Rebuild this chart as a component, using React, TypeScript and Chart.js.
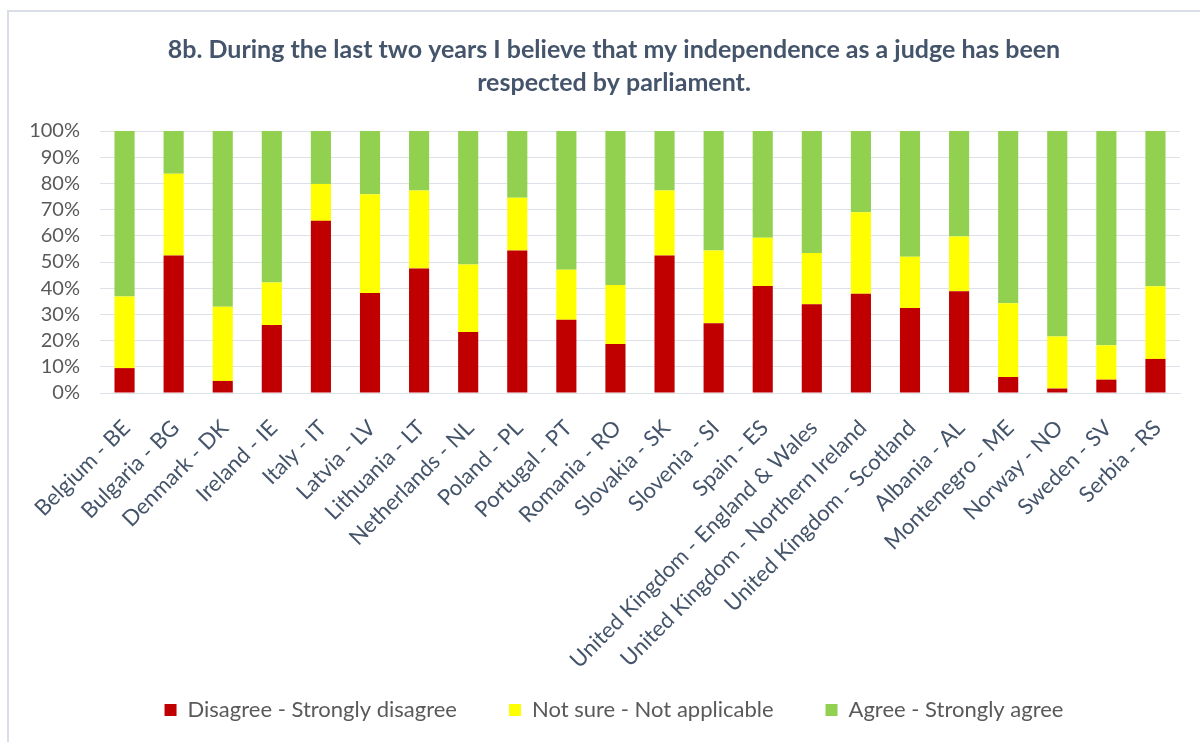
import React, { useEffect, useRef } from 'react';
import { Chart, registerables } from 'chart.js';

Chart.register(...registerables);

const titleLines = [
  '8b. During the last two years I believe that my independence as a judge has been',
  'respected by parliament.',
];

const categories = [
  'Belgium - BE',
  'Bulgaria - BG',
  'Denmark - DK',
  'Ireland - IE',
  'Italy - IT',
  'Latvia - LV',
  'Lithuania - LT',
  'Netherlands - NL',
  'Poland - PL',
  'Portugal - PT',
  'Romania - RO',
  'Slovakia - SK',
  'Slovenia - SI',
  'Spain - ES',
  'United Kingdom - England & Wales',
  'United Kingdom - Northern Ireland',
  'United Kingdom - Scotland',
  'Albania - AL',
  'Montenegro - ME',
  'Norway - NO',
  'Sweden - SV',
  'Serbia - RS',
];

const disagree = [9.5, 52.5, 4.6, 26.0, 65.7, 38.2, 47.5, 23.3, 54.4, 28.0, 18.7, 52.5, 26.6, 40.8, 33.9, 37.9, 32.4, 38.8, 6.1, 1.7, 5.1, 13.0];
const notSure = [27.3, 31.2, 28.3, 16.2, 14.1, 37.7, 29.8, 25.7, 20.1, 19.0, 22.5, 24.8, 27.8, 18.5, 19.5, 31.1, 19.6, 20.9, 28.2, 19.9, 13.1, 27.7];
const agree = [63.2, 16.3, 67.1, 57.8, 20.2, 24.1, 22.7, 51.0, 25.5, 53.0, 58.8, 22.7, 45.6, 40.7, 46.6, 31.0, 48.0, 40.3, 65.7, 78.4, 81.8, 59.3];

const seriesNames = ['Disagree - Strongly disagree', 'Not sure - Not applicable', 'Agree - Strongly agree'];

const FONT = 'Lato, "Open Sans", sans-serif';
const TEXT_GREY = '#595959';
const TEXT_SLATE = '#44546A';
const GRID = '#DDE1E8';

const LEGEND_PAD = 52;
const LEGEND_FONT = 22;
const LEGEND_ROW_Y = 710;

// shifts the title and legend boxes so they sit like the reference
const shiftBoxes = {
  id: 'shiftBoxes',
  afterLayout(chart: any) {
    const lg = chart.legend;
    const tb = chart.titleBlock;
    if (tb) {
      tb.left += 24;
      tb.right += 24;
    }
    if (lg) {
      lg.left += 24;
      lg.right += 24;
      lg.top = LEGEND_ROW_Y - LEGEND_PAD - LEGEND_FONT / 2;
      lg.bottom = chart.height;
    }
  },
};

export default function App() {
  const canvasRef = useRef<HTMLCanvasElement | null>(null);

  useEffect(() => {
    if (!canvasRef.current) return;
    const chart = new Chart(canvasRef.current, {
      type: 'bar',
      data: {
        labels: categories,
        datasets: [
          { label: seriesNames[0], data: disagree, backgroundColor: '#C00000', borderWidth: 0 },
          { label: seriesNames[1], data: notSure, backgroundColor: '#FFFF00', borderWidth: 0 },
          { label: seriesNames[2], data: agree, backgroundColor: '#92D050', borderWidth: 0 },
        ],
      },
      options: {
        animation: false,
        responsive: false,
        maintainAspectRatio: false,
        datasets: { bar: { barPercentage: 0.41, categoryPercentage: 1 } },
        layout: { padding: { left: 0, right: 20, top: 0, bottom: 0 } },
        plugins: {
          title: {
            display: true,
            text: titleLines,
            color: TEXT_SLATE,
            font: { family: FONT, size: 25, weight: 'bold', lineHeight: 1.32 },
            padding: { top: 33.5, bottom: 31.5 },
          },
          legend: {
            position: 'bottom',
            maxHeight: 40,
            labels: {
              color: TEXT_GREY,
              font: { family: FONT, size: LEGEND_FONT },
              boxWidth: 12,
              boxHeight: 12,
              padding: LEGEND_PAD,
            },
          },
          tooltip: { enabled: false },
        },
        scales: {
          x: {
            stacked: true,
            grid: { display: false, drawTicks: false },
            border: { display: true, color: GRID, width: 1 },
            ticks: {
              color: TEXT_SLATE,
              font: { family: FONT, size: 22 },
              maxRotation: 45,
              minRotation: 45,
              autoSkip: false,
              padding: 22,
              labelOffset: 2,
            },
            afterFit: (scale: any) => {
              scale.height = 309;
            },
          },
          y: {
            stacked: true,
            min: 0,
            max: 100,
            grid: { color: GRID, drawTicks: false, lineWidth: 1 },
            border: { display: false },
            ticks: {
              stepSize: 10,
              autoSkip: false,
              color: TEXT_GREY,
              font: { family: FONT, size: 20 },
              padding: 20,
              callback: (v: any) => v + '%',
            },
            afterFit: (scale: any) => {
              scale.width = 100;
            },
          },
        },
      },
      plugins: [shiftBoxes],
    });
    return () => chart.destroy();
  }, []);

  return (
    <div style={{ position: 'fixed', left: 0, top: 0, width: 1200, height: 742, background: '#fff', overflow: 'hidden' }}>
      <div
        style={{
          position: 'absolute',
          left: 7,
          top: 10,
          width: 1300,
          height: 900,
          borderLeft: '2px solid #D9DEE6',
          borderTop: '2px solid #D9DEE6',
        }}
      />
      <canvas ref={canvasRef} width={1200} height={742} style={{ position: 'absolute', left: 0, top: 0 }} />
    </div>
  );
}
